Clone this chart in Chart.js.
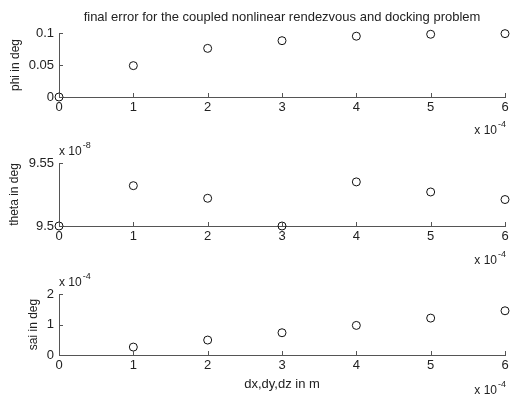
<!DOCTYPE html>
<html>
<head>
<meta charset="utf-8">
<script src="https://cdn.jsdelivr.net/npm/chart.js@4"></script>
<style>
  body { margin: 0; background: #fff; }
  #wrap { position: relative; width: 512px; height: 400px; }
  #wrap canvas { position: absolute; left: 0; }
</style>
</head>
<body>
<div id="wrap">
  <canvas id="phiChart" width="512" height="140" style="top:0px"></canvas>
  <canvas id="thetaChart" width="512" height="130" style="top:140px"></canvas>
  <canvas id="saiChart" width="512" height="130" style="top:270px"></canvas>
</div>
<script>
// x in units of 1e-4 m
var xVals = [0, 1, 2, 3, 4, 5, 6];
var xTicks = [0, 1, 2, 3, 4, 5, 6];

// phi in deg
var phiVals = [0, 0.049, 0.076, 0.088, 0.095, 0.098, 0.099];
var phiTicks = [0, 0.05, 0.1];
var phiTickLabels = ['0', '0.05', '0.1'];

// theta in deg, units of 1e-8
var thetaVals = [9.500, 9.532, 9.522, 9.500, 9.535, 9.527, 9.521];
var thetaTicks = [9.5, 9.55];
var thetaTickLabels = ['9.5', '9.55'];

// sai in deg, units of 1e-4 (no point at x = 0)
var saiX = [1, 2, 3, 4, 5, 6];
var saiVals = [0.26, 0.49, 0.73, 0.97, 1.21, 1.45];
var saiTicks = [0, 1, 2];
var saiTickLabels = ['0', '1', '2'];

var axisColor = '#555';
var textColor = '#222';
var fontFamily = '"Liberation Sans", Arial, sans-serif';

Chart.defaults.font.family = fontFamily;
Chart.defaults.font.size = 13;
Chart.defaults.color = textColor;

function drawPow(ctx, x, y, exp, align){
    ctx.font = '12px ' + fontFamily;
    var base = 'x 10';
    var bw = ctx.measureText(base).width;
    ctx.font = '9px ' + fontFamily;
    var ew = ctx.measureText(exp).width;
    var start = align === 'right' ? x - bw - ew : x;
    ctx.textAlign = 'left';
    ctx.textBaseline = 'middle';
    ctx.fillStyle = textColor;
    ctx.font = '12px ' + fontFamily;
    ctx.fillText(base, start, y);
    ctx.font = '9px ' + fontFamily;
    ctx.fillText(exp, start + bw + 1, y - 6);
}

// inward tick marks + "x 10^n" multipliers
var matlabAxes = {
    id: 'matlabAxes',
    afterDraw: function(chart, args, opts){
        var ctx = chart.ctx, area = chart.chartArea;
        var xs = chart.scales.x, ys = chart.scales.y;
        ctx.save();
        ctx.strokeStyle = axisColor;
        ctx.lineWidth = 1;
        ctx.beginPath();
        xs.ticks.forEach(function(t){
            var px = Math.round(xs.getPixelForValue(t.value)) + 0.5;
            ctx.moveTo(px, area.bottom);
            ctx.lineTo(px, area.bottom - 4);
        });
        ys.ticks.forEach(function(t){
            var py = Math.round(ys.getPixelForValue(t.value)) + 0.5;
            ctx.moveTo(area.left, py);
            ctx.lineTo(area.left + 4, py);
        });
        ctx.stroke();
        if (opts.yExp) drawPow(ctx, area.left, area.top - 11, opts.yExp, 'left');
        if (opts.xExp) drawPow(ctx, area.right, area.bottom + opts.xExpOffset, opts.xExp, 'right');
        ctx.restore();
    }
};

function makePanel(id, xs, ys, yMin, yMax, yTicks, yTickLabels, yTitle, extra){
    var points = xs.map(function(x, i){ return {x: x, y: ys[i]}; });
    var cfg = {
        type: 'scatter',
        data: {
            datasets: [{
                data: points,
                pointStyle: 'circle',
                pointRadius: 4,
                pointHoverRadius: 4,
                borderWidth: 1,
                borderColor: '#111',
                backgroundColor: 'rgba(0,0,0,0)',
                clip: false
            }]
        },
        options: {
            responsive: false,
            animation: false,
            devicePixelRatio: 1,
            layout: { padding: { top: extra.padTop, right: 7, bottom: 0, left: 0 } },
            plugins: {
                legend: { display: false },
                tooltip: { enabled: false },
                title: extra.title ? {
                    display: true,
                    text: extra.title,
                    fullSize: false,
                    font: { size: 13, weight: 'normal' },
                    color: textColor,
                    padding: { top: 10, bottom: 7.4 }
                } : { display: false },
                matlabAxes: { yExp: extra.yExp, xExp: '-4', xExpOffset: extra.xExpOffset }
            },
            scales: {
                x: {
                    type: 'linear',
                    min: 0,
                    max: 6,
                    afterBuildTicks: function(s){ s.ticks = xTicks.map(function(v){ return {value: v}; }); },
                    afterFit: function(s){ s.height = extra.xHeight; },
                    grid: { display: false, drawTicks: false },
                    border: { display: true, color: axisColor, width: 1 },
                    ticks: { padding: 3, maxRotation: 0, callback: function(v){ return String(v); } },
                    title: extra.xTitle ? {
                        display: true,
                        text: extra.xTitle,
                        font: { size: 13 },
                        padding: { top: 0, bottom: 8 }
                    } : { display: false }
                },
                y: {
                    type: 'linear',
                    min: yMin,
                    max: yMax,
                    afterBuildTicks: function(s){ s.ticks = yTicks.map(function(v){ return {value: v}; }); },
                    afterFit: function(s){ s.width = 59; },
                    grid: { display: false, drawTicks: false },
                    border: { display: true, color: axisColor, width: 1 },
                    ticks: { padding: 5, callback: function(v, i){ return yTickLabels[i]; } },
                    title: {
                        display: true,
                        text: yTitle,
                        font: { size: 12 },
                        padding: { top: extra.yTitlePad, bottom: 0 }
                    }
                }
            }
        },
        plugins: [matlabAxes]
    };
    return new Chart(document.getElementById(id).getContext('2d'), cfg);
}

var phiChart = makePanel('phiChart', xVals, phiVals, 0, 0.1, phiTicks, phiTickLabels, 'phi in deg', {
    title: 'final error for the coupled nonlinear rendezvous and docking problem',
    padTop: 0, xHeight: 43, xExpOffset: 34, yTitlePad: 8
});

var thetaChart = makePanel('thetaChart', xVals, thetaVals, 9.5, 9.55, thetaTicks, thetaTickLabels, 'theta in deg', {
    yExp: '-8', padTop: 23, xHeight: 44, xExpOffset: 35, yTitlePad: 7
});

var saiChart = makePanel('saiChart', saiX, saiVals, 0, 2, saiTicks, saiTickLabels, 'sai in deg', {
    yExp: '-4', padTop: 24, xHeight: 45, xExpOffset: 36, xTitle: 'dx,dy,dz in m', yTitlePad: 26
});
</script>
</body>
</html>
